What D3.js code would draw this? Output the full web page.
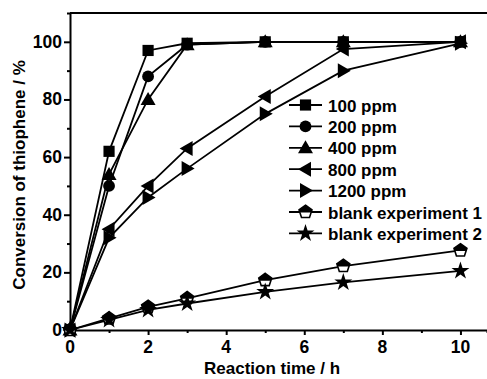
<!DOCTYPE html>
<html>
<head>
<meta charset="utf-8">
<script src="https://cdn.jsdelivr.net/npm/d3@7"></script>
<style>
  body { margin: 0; background: #fff; }
  text { font-family: "Liberation Sans", Arial, sans-serif; font-weight: bold; }
</style>
</head>
<body>
<script>
// reaction times (h)
var times = [0, 1, 2, 3, 5, 7, 10];

// conversion values (%) per series
var s100 = [0, 62, 97, 99.5, 100, 100, 100];
var s200 = [0, 50, 88, 99, 100, 100, 100];
var s400 = [0, 54, 80, 99, 100, 100, 100];
var s800 = [0, 35, 50, 63, 81, 97.5, 100];
var s1200 = [0, 32, 46, 56, 75, 90, 99.5];
var blank1 = [0, 4, 8, 11, 17.3, 22.2, 27.6];
var blank2 = [0, 3.5, 7, 9.2, 13.2, 16.5, 20.5];

var seriesNames = ["100 ppm", "200 ppm", "400 ppm", "800 ppm", "1200 ppm",
                   "blank experiment 1", "blank experiment 2"];
var seriesValues = [s100, s200, s400, s800, s1200, blank1, blank2];
var seriesMarks = ["square", "circle", "triUp", "triLeft", "triRight", "pentagon", "star"];

var xTicks = [0, 2, 4, 6, 8, 10];
var yTicks = [0, 20, 40, 60, 80, 100];

var width = 487, height = 379;
var margin = {left: 70, top: 13, right: 0, bottom: 49};

var svg = d3.select("body").append("svg")
    .attr("width", width)
    .attr("height", height);

var x = d3.scaleLinear().domain([0, 10.68]).range([margin.left, width - margin.right]);
var y = d3.scaleLinear().domain([0, 110]).range([height - margin.bottom, margin.top]);

//marker shapes
function markPath(kind) {
    var r = 6.8;
    if (kind == "square") return d3.symbol(d3.symbolSquare, 125)();
    if (kind == "circle") return d3.symbol(d3.symbolCircle, 110)();
    if (kind == "triUp") return "M0,-7.5L7.5,5.5L-7.5,5.5Z";
    if (kind == "triLeft") return "M-7.5,0L5.5,-7.5L5.5,7.5Z";
    if (kind == "triRight") return "M7.5,0L-5.5,-7.5L-5.5,7.5Z";
    if (kind == "star") return d3.symbol(d3.symbolStar, 100)();
    var pts = d3.range(5).map(function(i) {
        var a = -Math.PI / 2 + i * 2 * Math.PI / 5;
        return [r * Math.cos(a), r * Math.sin(a)];
    });
    return "M" + pts.join("L") + "Z";
}
function pentaTop() {
    var r = 6.8;
    return "M0," + (-r) + "L" + (0.951 * r) + "," + (-0.309 * r) +
        "L" + (0.84 * r) + ",0.5L" + (-0.84 * r) + ",0.5L" + (-0.951 * r) + "," + (-0.309 * r) + "Z";
}

function drawMark(g, kind) {
    if (kind == "pentagon") {
        g.append("path").attr("d", markPath(kind))
            .attr("fill", "#fff").attr("stroke", "#000").attr("stroke-width", 1.6);
        g.append("path").attr("d", pentaTop()).attr("fill", "#000");
    } else {
        g.append("path").attr("d", markPath(kind)).attr("fill", "#000");
    }
}

//axes
var xAxis = svg.append("g").attr("transform", "translate(0," + y(0) + ")");
xAxis.call(d3.axisBottom(x).tickValues(d3.range(0, 11, 1)).tickSize(3).tickFormat(""));
xAxis.selectAll(".tick").filter(function(d) { return d % 2 == 0; })
    .select("line").attr("y2", 5);
xAxis.selectAll(".tick line").attr("stroke-width", 2);
xAxis.select(".domain").attr("stroke-width", 2);
svg.selectAll(".xlab").data(xTicks).enter().append("text")
    .attr("x", function(d) { return x(d); })
    .attr("y", y(0) + 23)
    .attr("text-anchor", "middle")
    .style("font-size", "17.5px")
    .text(function(d) { return d; });

var yAxis = svg.append("g").attr("transform", "translate(" + x(0) + ",0)");
yAxis.call(d3.axisLeft(y).tickValues(d3.range(0, 110, 10)).tickSize(3).tickFormat(""));
yAxis.selectAll(".tick").filter(function(d) { return d % 20 == 0; })
    .select("line").attr("x2", -6);
yAxis.selectAll(".tick line").attr("stroke-width", 2);
yAxis.select(".domain").attr("stroke-width", 2);
svg.selectAll(".ylab").data(yTicks).enter().append("text")
    .attr("x", x(0) - 8)
    .attr("y", function(d) { return y(d) + 6; })
    .attr("text-anchor", "end")
    .style("font-size", "17.5px")
    .text(function(d) { return d; });

//top frame line
svg.append("line")
    .attr("x1", x(0)).attr("x2", width)
    .attr("y1", y(110)).attr("y2", y(110))
    .attr("stroke", "#000").attr("stroke-width", 2);

//axis titles
svg.append("text")
    .attr("x", 272).attr("y", 374)
    .attr("text-anchor", "middle")
    .style("font-size", "17px")
    .text("Reaction time / h");
svg.append("text")
    .attr("transform", "translate(25," + 175 + ") rotate(-90)")
    .attr("text-anchor", "middle")
    .style("font-size", "17px")
    .text("Conversion of thiophene / %");

//series lines and marks
var line = d3.line()
    .x(function(d, i) { return x(times[i]); })
    .y(function(d) { return y(d); });

seriesValues.forEach(function(vals, k) {
    svg.append("path")
        .attr("d", line(vals))
        .attr("fill", "none")
        .attr("stroke", "#000")
        .attr("stroke-width", 1.8);
});
seriesValues.forEach(function(vals, k) {
    vals.forEach(function(v, i) {
        var g = svg.append("g").attr("transform", "translate(" + x(times[i]) + "," + y(v) + ")");
        drawMark(g, seriesMarks[k]);
    });
});

//legend
var legend = svg.append("g").attr("transform", "translate(289,105)");
seriesNames.forEach(function(name, k) {
    var row = legend.append("g").attr("transform", "translate(0," + (k * 21.4) + ")");
    row.append("line").attr("x1", 0).attr("x2", 33).attr("y1", 0).attr("y2", 0)
        .attr("stroke", "#000").attr("stroke-width", 1.8);
    drawMark(row.append("g").attr("transform", "translate(16.5,0)"), seriesMarks[k]);
    row.append("text")
        .attr("x", 39).attr("y", 6.5)
        .style("font-size", "17px")
        .text(name);
});
</script>
</body>
</html>
